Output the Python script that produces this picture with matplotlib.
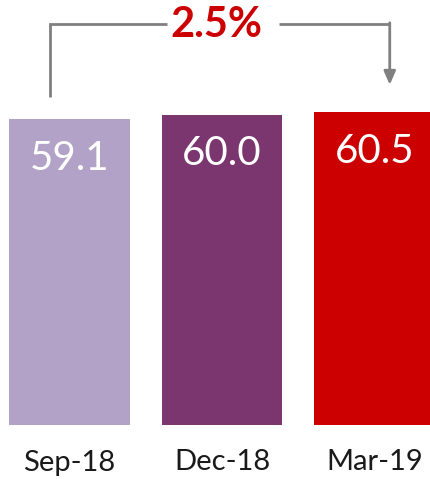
import matplotlib
matplotlib.use("Agg")
import matplotlib.pyplot as plt
from matplotlib import font_manager

# data
periods = ["Sep-18", "Dec-18", "Mar-19"]
values = [59.1, 60.0, 60.5]
bar_colors = ["#B3A2C7", "#7B3670", "#CC0000"]
growth_label = "2.5%"

names = {f.name for f in font_manager.fontManager.ttflist}
fam = "Lato" if "Lato" in names else "DejaVu Sans"
plt.rcParams["font.family"] = [fam, "DejaVu Sans"]

fig = plt.figure(figsize=(4.30, 4.79), dpi=100)
ax = fig.add_axes([0, 54 / 479, 1, 425 / 479])

xs = list(range(len(values)))
ax.bar(xs, values, width=0.79, color=bar_colors)

for x, v in zip(xs, values):
    ax.text(x, v - 4.0, f"{v:.1f}", ha="center", va="top",
            color="white", fontsize=29, fontweight="normal")

for x, p in zip(xs, periods):
    ax.annotate(p, xy=(x, 0), xycoords="data", xytext=(0, -27),
                textcoords="offset points", ha="center", va="center",
                fontsize=21, color="#1a1a1a")

# bracket with arrow from first to last bar
gray = "#808080"
x_left = xs[0] - 0.128
x_right = xs[-1] + 0.10
y_top = 77.6
y_start = values[0] + 4.3
y_tip = values[-1] + 5.3
x_mid = (x_left + x_right) / 2
gap = 0.37

ax.plot([x_left, x_left, x_mid - gap + 0.02], [y_start, y_top, y_top],
        color=gray, lw=2, solid_capstyle="butt", solid_joinstyle="miter")
ax.plot([x_mid + gap + 0.02, x_right], [y_top, y_top], color=gray, lw=2,
        solid_capstyle="butt")
ax.annotate("", xy=(x_right, y_tip), xytext=(x_right, y_top + 0.2),
            arrowprops=dict(arrowstyle="-|>,head_length=0.8,head_width=0.35",
                            color=gray, lw=2, shrinkA=0, shrinkB=0))
ax.text(x_mid - 0.02, y_top - 0.3, growth_label, ha="center", va="center",
        color="#CC0000", fontsize=30, fontweight="bold")

ax.set_xlim(-0.456, 2.364)
ax.set_ylim(0, 82.2)
ax.axis("off")

fig.savefig("out.png", dpi=100)
